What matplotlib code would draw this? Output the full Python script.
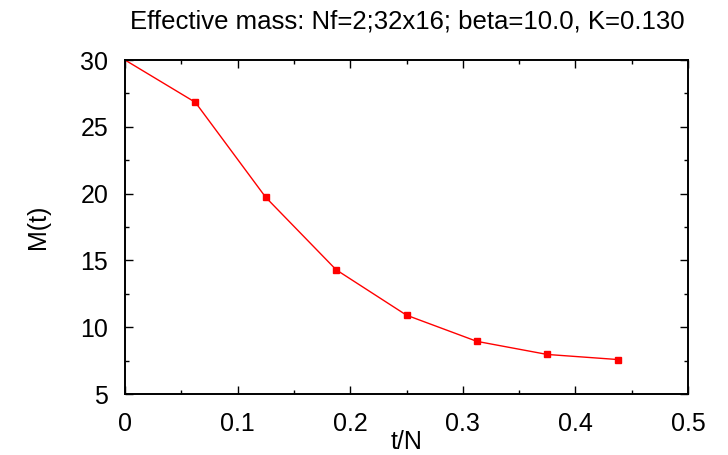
import matplotlib
matplotlib.use('Agg')
import matplotlib.pyplot as plt
from matplotlib.ticker import MultipleLocator

plt.rcParams['font.family'] = ['Liberation Sans', 'DejaVu Sans']

# effective mass vs t/N
t_over_n = [0.0, 0.0625, 0.125, 0.1875, 0.25, 0.3125, 0.375, 0.4375]
mass = [30.0, 26.83, 19.72, 14.3, 10.9, 8.94, 7.96, 7.58]

W, H = 728, 455
fig = plt.figure(figsize=(W / 100, H / 100), dpi=100)
ax = fig.add_axes([125 / W, 1 - 394 / H, 563 / W, 334 / H])

ax.plot(t_over_n, mass, color='red', linewidth=1.0, marker='s', markersize=5,
        markevery=list(range(1, len(t_over_n))), clip_on=False)

ax.set_xlim(0, 0.5)
ax.set_ylim(5, 30)
ax.xaxis.set_major_locator(MultipleLocator(0.1))
ax.xaxis.set_minor_locator(MultipleLocator(0.05))
ax.yaxis.set_major_locator(MultipleLocator(5))
ax.yaxis.set_minor_locator(MultipleLocator(2.5))
ax.xaxis.set_major_formatter(plt.FuncFormatter(lambda v, p: '0' if v == 0 else f'{v:g}'))

ax.tick_params(which='both', direction='in', top=True, right=True, width=1)
ax.tick_params(which='major', length=6, labelsize=18)
ax.tick_params(axis='x', which='major', pad=13)
ax.tick_params(axis='y', which='major', pad=12)
ax.tick_params(which='minor', length=3)
for s in ax.spines.values():
    s.set_linewidth(1.4)

fig.text(407 / W, 1 - 22 / H, 'Effective mass: Nf=2;32x16; beta=10.0, K=0.130',
         fontsize=18.5, ha='center', va='center')
fig.text(38 / W, 1 - 227 / H, 'M(t)', fontsize=18, rotation=90, ha='center', va='center')
fig.text(407 / W, 1 / H, 't/N', fontsize=18, ha='center', va='bottom')

fig.savefig('out.png', dpi=100)
